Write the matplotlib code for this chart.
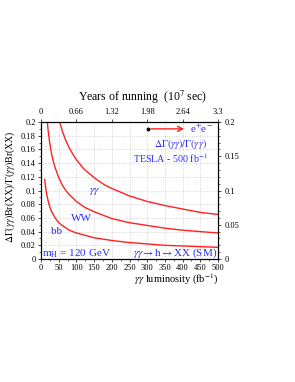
import numpy as np
import matplotlib
matplotlib.use('Agg')
import matplotlib.pyplot as plt
from matplotlib.ticker import AutoMinorLocator

# ------------------------------------------------------------------
# ------------------- Data -------------------
# ------------------------------------------------------------------
lumi_gg = [53, 60, 70, 80, 90, 100, 120, 140, 160, 180, 200, 250, 300, 350, 400, 450, 500]
err_gg = [0.2, 0.187, 0.173, 0.162, 0.153, 0.145, 0.132, 0.123, 0.115, 0.108, 0.103,
          0.092, 0.084, 0.078, 0.073, 0.068, 0.065]

lumi_ww = [18, 20, 25, 30, 35, 40, 50, 60, 70, 80, 100, 125, 150, 200, 250, 300, 350, 400, 450, 500]
err_ww = [0.2, 0.188, 0.168, 0.153, 0.142, 0.133, 0.119, 0.108, 0.100, 0.094, 0.084,
          0.075, 0.069, 0.059, 0.053, 0.049, 0.045, 0.042, 0.040, 0.038]

lumi_bb = [10.5, 12, 14, 16, 20, 25, 30, 40, 50, 60, 80, 100, 150, 200, 250, 300, 350, 400, 450, 500]
err_bb = [0.116, 0.109, 0.101, 0.095, 0.085, 0.076, 0.069, 0.060, 0.053, 0.049, 0.042,
          0.038, 0.031, 0.027, 0.024, 0.022, 0.020, 0.019, 0.018, 0.017]

lumi_ticks = [0, 50, 100, 150, 200, 250, 300, 350, 400, 450, 500]
year_ticks = [0, 100, 200, 300, 400, 500]
year_labels = ['0', '0.66', '1.32', '1.98', '2.64', '3.3']
left_ticks = [0, 0.02, 0.04, 0.06, 0.08, 0.1, 0.12, 0.14, 0.16, 0.18, 0.2]
left_labels = ['0', '0.02', '0.04', '0.06', '0.08', '0.1', '0.12', '0.14', '0.16', '0.18', '0.2']
right_ticks = [0, 0.05, 0.1, 0.15, 0.2]
right_labels = ['0', '0.05', '0.1', '0.15', '0.2']

# ------------------------------------------------------------------
# ------------------- Figure layout ---------------------------------
# ------------------------------------------------------------------
plt.rcParams['font.family'] = 'Liberation Serif'
plt.rcParams['mathtext.fontset'] = 'stix'

fig = plt.figure(figsize=(2.95, 3.82), dpi=100)
ax1 = fig.add_axes([0.139, 0.322, 0.600, 0.3586])
ax1.set_xlim(0, 500)
ax1.set_ylim(0, 0.2)

blue = '#2a2aff'
red = '#ff2020'
tick_fs = 6.0

ax1.set_xticks(lumi_ticks)
ax1.set_xticklabels([str(t) for t in lumi_ticks], fontsize=tick_fs)
ax1.set_yticks(left_ticks)
ax1.set_yticklabels(left_labels, fontsize=tick_fs)
ax1.yaxis.set_minor_locator(AutoMinorLocator(2))
ax1.xaxis.set_minor_locator(AutoMinorLocator(2))
ax1.tick_params(which='major', direction='out', length=2.5, width=0.5, pad=1.2)
ax1.tick_params(which='minor', direction='out', length=1.5, width=0.4)
ax1.grid(True, color='#c8c8c8', linestyle=':', linewidth=0.6)
for s in ax1.spines.values():
    s.set_linewidth(0.6)
    s.set_color('#555555')

# ------ top axis: years of running ------
ax_top = ax1.twiny()
ax_top.set_xlim(0, 500)
ax_top.set_xticks(year_ticks)
ax_top.set_xticklabels(year_labels, fontsize=tick_fs)
ax_top.tick_params(direction='out', length=2.5, width=0.5, pad=1.5)

# ------ right axis ------
ax_right = ax1.twinx()
ax_right.set_ylim(0, 0.2)
ax_right.set_yticks(right_ticks)
ax_right.set_yticklabels(right_labels, fontsize=tick_fs)
ax_right.yaxis.set_minor_locator(AutoMinorLocator(5))
ax_right.tick_params(which='major', direction='out', length=2.5, width=0.5, pad=2)
ax_right.tick_params(which='minor', direction='out', length=1.5, width=0.4)

# -------- curves ----------
ax1.plot(lumi_gg, err_gg, color=red, lw=1.0)
ax1.plot(lumi_ww, err_ww, color=red, lw=1.0)
ax1.plot(lumi_bb, err_bb, color=red, lw=1.0)

# -------- labels ----------
ax1.text(152, 0.098, r'$\gamma\gamma$', color=blue, fontsize=8, ha='center', va='center')
ax1.text(115, 0.059, 'WW', color=blue, fontsize=8, ha='center', va='center')
ax1.text(44, 0.040, 'bb', color=blue, fontsize=8, ha='center', va='center')
ax1.text(4, 0.008, r'm$_\mathrm{H}$ = 120 GeV', color=blue, fontsize=8, ha='left', va='center')
ax1.text(497, 0.009, r'$\gamma\gamma\!\rightarrow$h$\rightarrow$XX (SM)', color=blue, fontsize=8,
         ha='right', va='center')

ax1.plot([301], [0.19], 'o', color='k', ms=1.8)
ax1.annotate('', xy=(412, 0.19), xytext=(303, 0.19),
             arrowprops=dict(arrowstyle='->', color=red, lw=1.0, mutation_scale=9))
ax1.text(422, 0.19, r'e$^{+}$e$^{-}$', color=blue, fontsize=8, ha='left', va='center')
ax1.text(470, 0.168, r'$\Delta\Gamma(\gamma\gamma)/\Gamma(\gamma\gamma)$', color=blue, fontsize=7.2,
         ha='right', va='center')
ax1.text(472, 0.147, r'TESLA - 500 fb$^{-1}$', color=blue, fontsize=7.2, ha='right', va='center')

# -------- axis titles ----------
fig.text(0.265, 0.745, r'Years of running  (10$^{7}$ sec)', fontsize=8.5, ha='left', va='center')
fig.text(0.739, 0.268, r'$\gamma\gamma$ luminosity (fb$^{-1}$)', fontsize=7.5, ha='right', va='center')
fig.text(0.035, 0.51, r'$\Delta\Gamma(\gamma\gamma)$Br(XX)/$\Gamma(\gamma\gamma)$Br(XX)', fontsize=7,
         rotation=90, ha='center', va='center')

plt.savefig('out.png', dpi=100)
